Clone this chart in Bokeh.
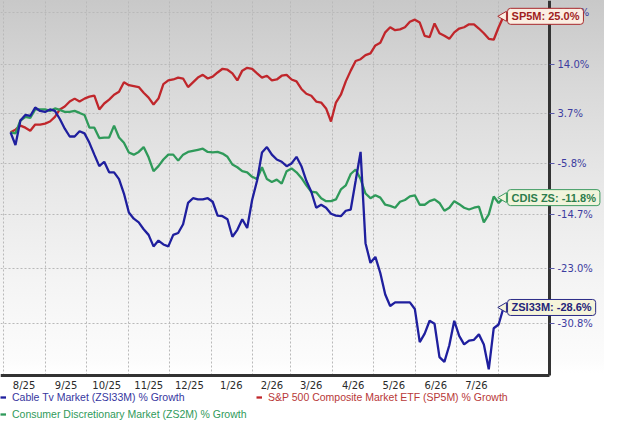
import numpy as np
import pandas as pd
from bokeh.plotting import figure
from bokeh.models import (Range1d, FixedTicker, CustomJSTickFormatter, Legend,
                          LegendItem, Label, ColumnDataSource, Grid, BoxAnnotation)
from bokeh.embed import file_html
from bokeh.resources import INLINE

# ---------------- data (percent growth) ----------------
DATES = pd.date_range("2025-08-06", "2026-08-05", periods=101)

SP5M = [0.0, 0.5, 1.3, 0.9, 0.3, 1.5, 1.5, 1.7, 2.1, 3.0,
        4.5, 5.1, 6.1, 6.7, 6.1, 6.7, 7.1, 7.3, 4.5, 5.7,
        6.5, 7.5, 8.1, 10.1, 9.5, 9.3, 9.1, 7.9, 6.9, 5.5,
        6.7, 9.7, 10.5, 10.7, 11.1, 10.9, 9.1, 10.1, 11.1, 11.7,
        10.9, 11.3, 12.2, 13.0, 12.8, 12.0, 10.5, 12.6, 13.2, 13.0,
        12.0, 11.1, 11.5, 10.5, 10.7, 11.5, 11.7, 10.7, 10.3, 8.7,
        7.7, 7.3, 6.1, 5.9, 4.7, 2.1, 5.9, 7.5, 10.3, 12.6,
        14.7, 15.1, 16.0, 16.4, 18.2, 18.8, 21.2, 22.4, 21.7, 21.9,
        22.4, 23.7, 24.2, 23.5, 20.4, 20.1, 23.3, 21.0, 20.4, 19.7,
        21.2, 22.1, 22.4, 23.1, 23.1, 22.1, 21.0, 19.7, 19.5, 22.4,
        25.0]

CDIS = [0.0, -0.2, 2.3, 3.0, 2.8, 4.5, 4.5, 4.5, 4.2, 4.7,
        4.4, 4.0, 4.0, 4.2, 3.8, 3.4, 0.9, 0.9, -1.1, -1.0,
        -1.0, 1.3, -1.0, -2.0, -3.8, -4.2, -3.7, -2.8, -4.7, -7.2,
        -6.3, -5.1, -4.2, -4.2, -5.3, -4.2, -3.7, -3.5, -3.3, -3.1,
        -3.7, -3.8, -3.7, -4.0, -4.6, -6.0, -6.5, -7.2, -7.4, -8.2,
        -8.6, -6.5, -8.6, -9.1, -8.7, -9.4, -7.2, -6.7, -7.4, -8.4,
        -9.7, -10.8, -10.9, -11.9, -12.4, -12.4, -12.1, -10.4, -9.7, -7.7,
        -6.9, -8.6, -11.1, -11.9, -11.4, -11.8, -13.0, -13.2, -13.5, -12.5,
        -12.2, -11.6, -11.4, -13.0, -13.0, -12.4, -12.1, -12.7, -14.0, -13.5,
        -12.4, -12.9, -13.5, -13.8, -13.5, -13.3, -15.9, -14.6, -11.6, -12.7,
        -11.8]

ZSI33M = [0.0, -2.4, 2.3, 3.4, 3.2, 4.9, 4.2, 4.0, 4.5, 4.2,
          2.6, 0.7, -0.8, -0.8, 0.2, -0.2, -2.0, -4.2, -6.3, -5.5,
          -7.4, -7.4, -8.6, -11.1, -14.3, -15.3, -15.9, -17.0, -17.9, -19.7,
          -18.8, -19.4, -19.7, -17.9, -17.6, -16.2, -12.7, -11.9, -12.1, -12.1,
          -11.9, -12.5, -14.8, -14.9, -15.4, -18.2, -17.1, -15.4, -16.8, -12.2,
          -8.9, -3.8, -2.8, -4.2, -5.1, -5.5, -6.3, -5.8, -4.6, -6.3,
          -8.9, -10.8, -13.5, -13.0, -13.5, -14.5, -14.8, -14.9, -14.0, -13.8,
          -8.9, -3.7, -19.2, -22.2, -21.3, -23.7, -26.8, -28.4, -27.9, -27.9,
          -27.9, -27.9, -28.8, -33.2, -32.1, -30.4, -30.8, -35.1, -35.7, -33.6,
          -30.4, -32.4, -33.5, -33.0, -32.9, -32.2, -33.5, -36.6, -31.4, -30.9,
          -28.6]

X_TICK_DATES = ["2025-08-16", "2025-09-16", "2025-10-16", "2025-11-16",
                "2025-12-16", "2026-01-16", "2026-02-15", "2026-03-16",
                "2026-04-16", "2026-05-16", "2026-06-16", "2026-07-16"]
X_LABELS = ["8/25", "9/25", "10/25", "11/25", "12/25", "1/26",
            "2/26", "3/26", "4/26", "5/26", "6/26", "7/26"]
MONTH_STARTS = pd.date_range("2025-08-01", "2026-08-01", freq="MS")
Y_TICKS_PCT = [25.9, 14.0, 3.7, -5.8, -14.7, -23.0, -30.8]

SERIES = [
    ("ZSI33M", ZSI33M, "#1f1f9e", "Cable Tv Market (ZSI33M) % Growth", "#3636a0",
     "ZSI33M: -28.6%", "#f5f4da", "#2a2a86", "#24247a"),
    ("SP5M", SP5M, "#c0262b", "S&P 500 Composite Market ETF (SP5M) % Growth", "#b83838",
     "SP5M: 25.0%", "#fbeee2", "#a8282b", "#a01e1e"),
    ("CDIS", CDIS, "#2f9a5a", "Consumer Discretionary Market (ZS2M) % Growth", "#2f9a5a",
     "CDIS ZS: -11.8%", "#f1f4dc", "#3f9c62", "#2d7d4c"),
]


def to_ms(d):
    return pd.Timestamp(d).timestamp() * 1000.0


# ---------------- geometry ----------------
FIG_W, FIG_H = 604, 423
AXIS_PX = 549                      # where the right value axis sits
X_START = to_ms("2025-07-29 14:00")
X_AXIS = to_ms("2026-09-07 22:00")
X_END = X_START + (X_AXIS - X_START) * FIG_W / AXIS_PX
Y_TOP, Y_AXIS, Y_BOTTOM = 1.2886, 0.627, 0.5712   # growth factors (log scale)

p = figure(width=FIG_W, height=FIG_H, title=None, x_axis_type="datetime",
           y_axis_type="log", y_axis_location="right",
           x_range=Range1d(X_START, X_END), y_range=Range1d(Y_BOTTOM, Y_TOP),
           output_backend="svg", toolbar_location=None, min_border=0)

p.background_fill_color = None
p.border_fill_color = None
p.outline_line_color = None
p.styles = {"background": "linear-gradient(to bottom, #c8c8c8 0px, #d9d9d9 88px, "
                          "#e8e8e8 185px, #f4f4f4 280px, #fcfcfc 362px, #ffffff 373px, #ffffff 100%)"}

src = ColumnDataSource(dict(x=DATES,
                            zsi=[1 + v / 100 for v in ZSI33M],
                            sp=[1 + v / 100 for v in SP5M],
                            cd=[1 + v / 100 for v in CDIS]))
col = {"ZSI33M": "zsi", "SP5M": "sp", "CDIS": "cd"}

# ---------------- grids ----------------
p.xgrid.ticker = FixedTicker(ticks=[to_ms(d) for d in MONTH_STARTS])
y_ticker = FixedTicker(ticks=[1 + t / 100 for t in Y_TICKS_PCT])
p.ygrid.ticker = y_ticker
for g in (p.xgrid, p.ygrid):
    g.grid_line_color = "#b9b9b9"
    g.grid_line_dash = "2 2"
    g.grid_line_width = 1
if "cross_bounds" in Grid.properties():
    p.xgrid.cross_bounds = (Y_AXIS, Y_TOP)
    p.ygrid.cross_bounds = (X_START, X_AXIS)
else:
    p.add_layout(BoxAnnotation(top=Y_AXIS, fill_color="white", fill_alpha=1,
                               line_color=None, level="underlay"))

renderers = {}
for key, vals, color, *_ in [SERIES[1], SERIES[2], SERIES[0]]:
    renderers[key] = p.line("x", col[key], source=src, line_color=color, line_width=2.3)

# ---------------- axes ----------------
p.yaxis.ticker = y_ticker
p.yaxis.fixed_location = X_AXIS
p.yaxis.bounds = (Y_AXIS, Y_TOP)
p.yaxis.formatter = CustomJSTickFormatter(code="return ((tick - 1) * 100).toFixed(1) + '%';")
p.yaxis.axis_line_width = 3
p.yaxis.axis_line_color = "#333333"
p.yaxis.major_tick_out = 5
p.yaxis.major_tick_in = 0
p.yaxis.major_tick_line_color = "#5a5aa8"
p.yaxis.minor_tick_line_color = None
p.yaxis.major_label_standoff = 3
p.yaxis.major_label_text_font = "DejaVu Sans"
p.yaxis.major_label_text_font_size = "10px"
p.yaxis.major_label_text_color = "#3c3ca0"

p.xaxis.ticker = FixedTicker(ticks=[to_ms(d) for d in X_TICK_DATES])
p.xaxis.fixed_location = Y_AXIS
p.xaxis.bounds = (X_START, X_AXIS)
p.xaxis.formatter = CustomJSTickFormatter(
    args=dict(tick_vals=[to_ms(d) for d in X_TICK_DATES], tick_labels=X_LABELS),
    code="""
    let best = 0, bd = Infinity;
    for (let i = 0; i < tick_vals.length; i++) {
        const dd = Math.abs(tick_vals[i] - tick);
        if (dd < bd) { bd = dd; best = i; }
    }
    return tick_labels[best];
    """)
p.xaxis.axis_line_width = 3
p.xaxis.axis_line_color = "#333333"
p.xaxis.major_tick_line_color = None
p.xaxis.minor_tick_line_color = None
p.xaxis.major_tick_out = 0
p.xaxis.major_label_standoff = 5
p.xaxis.major_label_text_font = "DejaVu Sans"
p.xaxis.major_label_text_font_size = "10px"
p.xaxis.major_label_text_color = "#2a2a2a"

# ---------------- end-of-line callouts ----------------
last_x = to_ms(DATES[-1])
for key, vals, color, leg, legc, text, fill, border, tcol in SERIES:
    last_y = 1 + vals[-1] / 100
    p.scatter([last_x], [last_y], marker="triangle", angle=np.pi / 2, size=10,
              fill_color=fill, line_color=border, line_width=1)
    p.add_layout(Label(x=last_x, y=last_y, text=text, x_offset=4,
                       text_baseline="middle", text_align="left",
                       text_font="Liberation Sans", text_font_style="bold",
                       text_font_size="11px", text_color=tcol,
                       background_fill_color=fill, border_line_color=border,
                       border_line_width=1, padding=(4, 2), border_radius=3))

# ---------------- legends ----------------
legend_pos = {"ZSI33M": (0, 20), "SP5M": (256, 20), "CDIS": (0, 3)}
for key, vals, color, leg, legc, *_ in SERIES:
    lg = Legend(items=[LegendItem(label=leg, renderers=[renderers[key]])],
                location=legend_pos[key], orientation="horizontal",
                background_fill_alpha=0, border_line_color=None,
                padding=0, margin=0, spacing=0,
                glyph_width=6, glyph_height=12, label_height=12, label_standoff=6,
                label_text_font="Liberation Sans", label_text_font_size="10.5px",
                label_text_color=legc)
    p.add_layout(lg)

open("out.html", "w").write(file_html(p, INLINE))
